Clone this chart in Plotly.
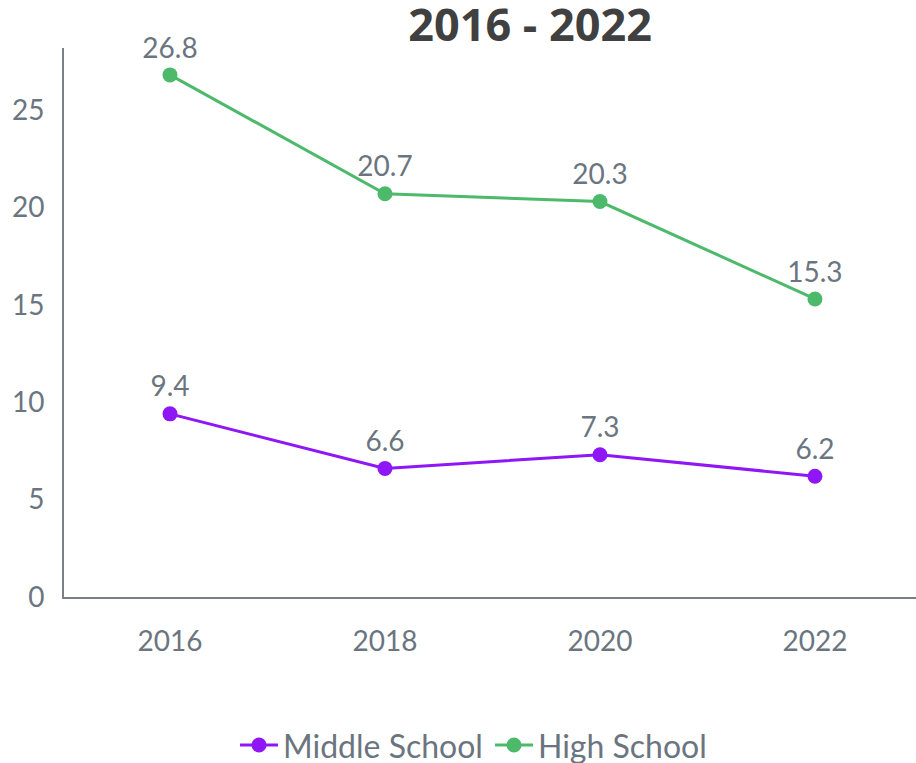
import plotly.graph_objects as go

YEARS = ['2016', '2018', '2020', '2022']
MIDDLE_SCHOOL = [9.4, 6.6, 7.3, 6.2]
HIGH_SCHOOL = [26.8, 20.7, 20.3, 15.3]

PURPLE = '#8f16f7'
GREEN = '#4cb96b'
GREY = '#6b7580'
FONT = 'Lato'

fig = go.Figure()
fig.add_trace(go.Scatter(
    x=YEARS, y=MIDDLE_SCHOOL, name='Middle School', mode='lines+markers+text',
    line=dict(color=PURPLE, width=3), marker=dict(size=15, color=PURPLE),
    text=[f'{v}' for v in MIDDLE_SCHOOL], textposition='top center',
    textfont=dict(size=28, color=GREY, family=FONT), cliponaxis=False,
))
fig.add_trace(go.Scatter(
    x=YEARS, y=HIGH_SCHOOL, name='High School', mode='lines+markers+text',
    line=dict(color=GREEN, width=3), marker=dict(size=15, color=GREEN),
    text=[f'{v}' for v in HIGH_SCHOOL], textposition='top center',
    textfont=dict(size=28, color=GREY, family=FONT), cliponaxis=False,
))

fig.update_xaxes(type='category', range=[-0.493, 3.47], showgrid=False,
                 showline=True, linecolor='#7a8088', linewidth=2,
                 tickfont=dict(size=28, color=GREY, family=FONT),
                 ticks='', ticklabelstandoff=18)
fig.update_yaxes(range=[0, 28.18], dtick=5, showgrid=False, zeroline=False,
                 showline=True, linecolor='#7a8088', linewidth=2,
                 tickfont=dict(size=28, color=GREY, family=FONT),
                 ticks='', ticklabelstandoff=12)

fig.update_layout(
    width=916, height=763,
    margin=dict(l=64, r=0, t=48, b=166, autoexpand=False),
    plot_bgcolor='white', paper_bgcolor='white',
    title=dict(text='<b>2016 - 2022</b>', x=0.547, xref='paper', xanchor='center',
               y=0.967, yref='container', yanchor='middle',
               font=dict(size=45, color='#404040', family='Open Sans', weight=800)),
    legend=dict(orientation='h', x=0.50, xanchor='center', y=-0.27, yanchor='middle',
                font=dict(size=32, color=GREY, family=FONT), itemwidth=38,
                entrywidth=202),
    showlegend=True,
)

# drop the default page margin so the figure sits flush in the window
fig.write_html('out.html', config={'displayModeBar': False},
               post_script="document.body.style.margin='0';document.body.style.overflow='hidden';")
